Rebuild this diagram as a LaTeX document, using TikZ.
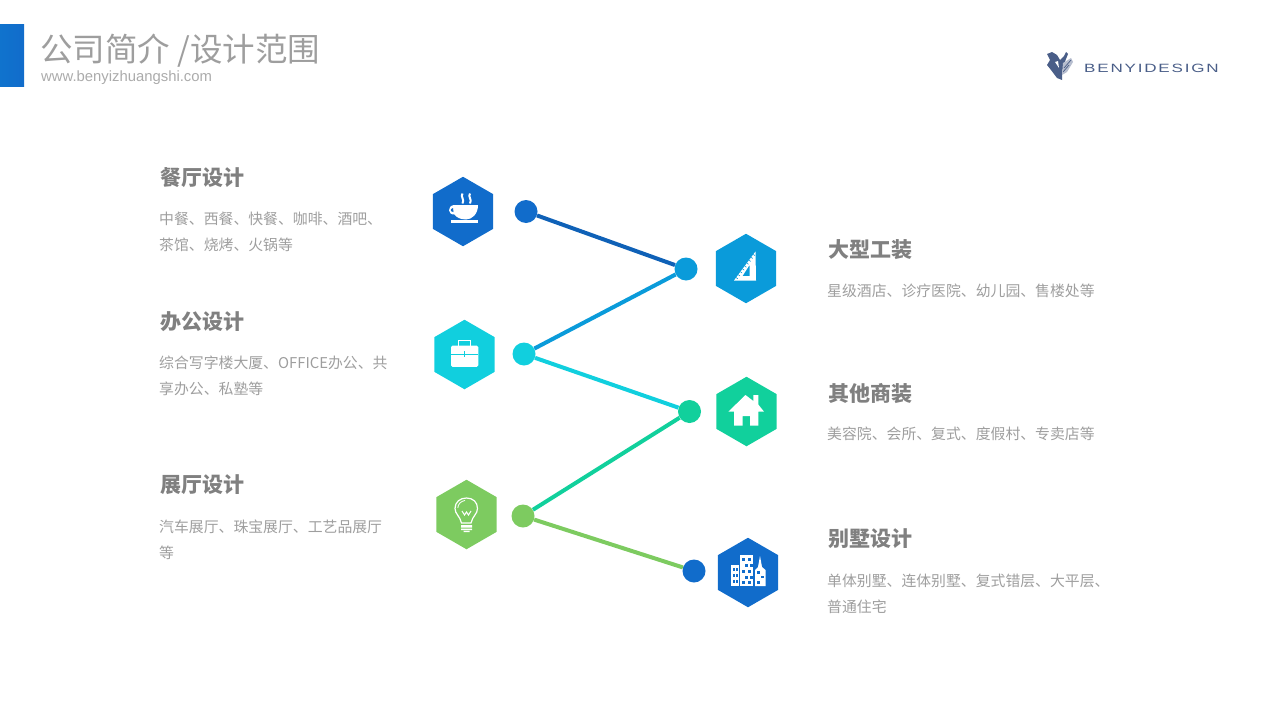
\documentclass[tikz,border=0pt]{standalone}
\usepackage{fontspec}
\setmainfont{Noto Sans CJK SC}
\newfontfamily\urlfont{Liberation Sans}
\newfontfamily\logofont[LetterSpace=15,FakeStretch=1.42]{Liberation Sans}
\usetikzlibrary{shapes.geometric}
\definecolor{cblue}{HTML}{116CCB}
\definecolor{csky}{HTML}{0A9BDA}
\definecolor{ccyan}{HTML}{11CFDE}
\definecolor{cgreen}{HTML}{11D09C}
\definecolor{clime}{HTML}{7DCB60}
\definecolor{clogo}{HTML}{4A5E88}
\tikzset{
  hexa/.style={regular polygon, regular polygon sides=6, shape border rotate=30, minimum size=69.5pt, inner sep=0pt, fill=#1},
  dot/.style={circle, minimum size=23pt, inner sep=0pt, fill=#1},
  link/.style={line width=4pt, #1},
  headtext/.style={anchor=base west, inner sep=0pt, text=black!50, font=\bfseries\fontsize{21}{21}\selectfont},
  bodytext/.style={anchor=north west, inner sep=0pt, align=left, text=black!38, font=\fontsize{14.86}{26}\selectfont},
}
\begin{document}
\begin{tikzpicture}[x=1pt,y=-1pt]
  \useasboundingbox (0,0) rectangle (1280,720);
  % header
  \path[left color=cblue!85!csky, right color=cblue] (0,24) rectangle (24,86);
  \node[anchor=base west, inner sep=0pt, text=black!38, font=\fontsize{32.5}{33}\selectfont] (title) at (40,61) {公司简介 /设计范围};
  \node[anchor=base west, inner sep=0pt, text=black!33, font=\urlfont\fontsize{14.85}{15}\selectfont] (url) at (41,81.5) {www.benyizhuangshi.com};
  % logo
  \node[anchor=base west, inner sep=0pt, text=clogo, font=\logofont\fontsize{12}{12}\selectfont] (logo) at (1084,72.5) {BENYIDESIGN};
  \fill[clogo] (1047,54) -- (1052,52) -- (1057,55) -- (1060,60) -- (1064,56) -- (1066,52) -- (1068,54) -- (1064,64) -- (1062,72) -- (1062,80) -- (1057,78) -- (1051,70) -- (1047,65) -- (1050,60) -- cycle;
  \fill[clogo!40] (1063,63) -- (1071,58) -- (1073,62) -- (1067,72) -- (1062,75) -- cycle;
  \draw[clogo, line width=0.7pt] (1064,68) -- (1071,60) (1063,72) -- (1069,65);
  \fill[white] (1055,62) -- (1058,61) -- (1059,68) -- cycle;
  % hexagons
  \node[hexa=cblue] (cup) at (463,211.5) {};
  \node[hexa=csky] (ruler) at (746,268.5) {};
  \node[hexa=ccyan] (bag) at (464.5,354.5) {};
  \node[hexa=cgreen] (house) at (746.5,411.5) {};
  \node[hexa=clime] (bulb) at (466.5,514.5) {};
  \node[hexa=cblue] (city) at (748,572.5) {};
  % dots
  \node[dot=cblue] (d1) at (526,211.5) {};
  \node[dot=csky] (d2) at (686,269) {};
  \node[dot=ccyan] (d3) at (524,354) {};
  \node[dot=cgreen] (d4) at (689.5,411.5) {};
  \node[dot=clime] (d5) at (523,516) {};
  \node[dot=cblue] (d6) at (694,571) {};
  \draw[link=cblue!90!black] (d1) -- (d2);
  \draw[link=csky] (d2) -- (d3);
  \draw[link=ccyan] (d3) -- (d4);
  \draw[link=cgreen] (d4) -- (d5);
  \draw[link=clime] (d5) -- (d6);
  % cup
  \fill[white] (454,205) -- (478,205) .. controls (478,214) and (472,219.5) .. (466,219.5) .. controls (460,219.5) and (456,217) .. (454.5,214.5) .. controls (447.5,215) and (447,206) .. (454,205) -- cycle;
  \fill[cblue] (453,208) .. controls (450,208.5) and (450,212) .. (453.5,212) -- cycle;
  \fill[white] (451,220.2) rectangle (478,222.8);
  \draw[white, line width=2pt] (462.5,193.5) .. controls (460,197) and (465,199) .. (462.5,203.5);
  \draw[white, line width=2pt] (470,193.5) .. controls (467.5,197) and (472.5,199) .. (470,203.5);
  % ruler
  \fill[white, even odd rule] (755.5,251.5) -- (734,280.5) -- (756,280.5) -- cycle (749.5,265) -- (749.5,276) -- (742.5,276) -- cycle;
  \foreach \tk in {0.1,0.2,...,0.9}
    \draw[csky, line width=0.6pt] ({755.5-21.5*\tk},{251.5+29*\tk}) -- ++(1.6,1.2);
  % bag
  \draw[white, line width=1.2pt] (458.5,345.5) -- (458.5,340.8) -- (470.5,340.8) -- (470.5,345.5);
  \fill[white, rounded corners=1.5pt] (451,345.7) rectangle (478.3,366.8);
  \draw[ccyan, line width=0.5pt] (451,354) -- (478.3,354);
  \draw[ccyan, line width=0.7pt] (464.5,351) -- (464.5,357);
  % house
  \fill[white] (745.5,395) -- (753.3,401) -- (753.3,395) -- (758.3,395) -- (758.3,404.5) -- (764,411.7) -- (758.3,411.7) -- (758.3,425.7) -- (750,425.7) -- (750,416) -- (742.7,416) -- (742.7,425.7) -- (734,425.7) -- (734,411.7) -- (728.3,411.7) -- cycle;
  % bulb
  \draw[white, line width=1.2pt] (461.5,523) .. controls (460,516) and (455,514) .. (455,508.5) .. controls (455,502) and (460,498) .. (466.5,498) .. controls (473,498) and (477.5,502) .. (477.5,508.5) .. controls (477.5,514) and (472.5,516) .. (471,523) -- cycle;
  \draw[white, line width=0.8pt] (457.8,508) .. controls (458,504) and (461,501) .. (465,500.5);
  \draw[white, line width=1pt] (462,511) -- (464.5,515) -- (466.5,512) -- (468.5,515) -- (471,511);
  \fill[white] (461,525) rectangle (472,527.5) (461,528.5) rectangle (472,530) (463.5,530.8) rectangle (469.5,532);
  % city
  \fill[white] (731,565) rectangle (739,586);
  \fill[white] (740,555) rectangle (753.3,586);
  \fill[white] (755,586) -- (755,570) -- (758,567) -- (760,556) -- (762,567) -- (765.5,570) -- (765.5,586) -- cycle;
  \foreach \wy in {568,574,580}
    \foreach \wx in {732.5,736}
      \fill[cblue] (\wx,\wy) rectangle ++(2,3);
  \foreach \wy/\wx in {558/742,558/748,564/745,564/750,570/742,570/748,575.5/745,575.5/750,581/742,581/748}
    \fill[cblue] (\wx,\wy) rectangle ++(3,3);
  \foreach \wy/\wx in {571/757,575.5/761,581/757}
    \fill[cblue] (\wx,\wy) rectangle ++(3,2.6);
  % left texts
  \node[headtext] (t1) at (160,185.5) {餐厅设计};
  \node[bodytext] (b1) at (159,212) {中餐、西餐、快餐、咖啡、酒吧、\\茶馆、烧烤、火锅等};
  \node[headtext] (t2) at (160,329.5) {办公设计};
  \node[bodytext] (b2) at (159,356) {综合写字楼大厦、OFFICE办公、共\\享办公、私塾等};
  \node[headtext] (t3) at (160,492.5) {展厅设计};
  \node[bodytext] (b3) at (159,520) {汽车展厅、珠宝展厅、工艺品展厅\\等};
  % right texts
  \node[headtext] (t4) at (828,257.5) {大型工装};
  \node[bodytext] (b4) at (827,284) {星级酒店、诊疗医院、幼儿园、售楼处等};
  \node[headtext] (t5) at (828,401.5) {其他商装};
  \node[bodytext] (b5) at (827,427) {美容院、会所、复式、度假村、专卖店等};
  \node[headtext] (t6) at (828,546.5) {别墅设计};
  \node[bodytext] (b6) at (827,574) {单体别墅、连体别墅、复式错层、大平层、\\普通住宅};
\end{tikzpicture}
\end{document}
